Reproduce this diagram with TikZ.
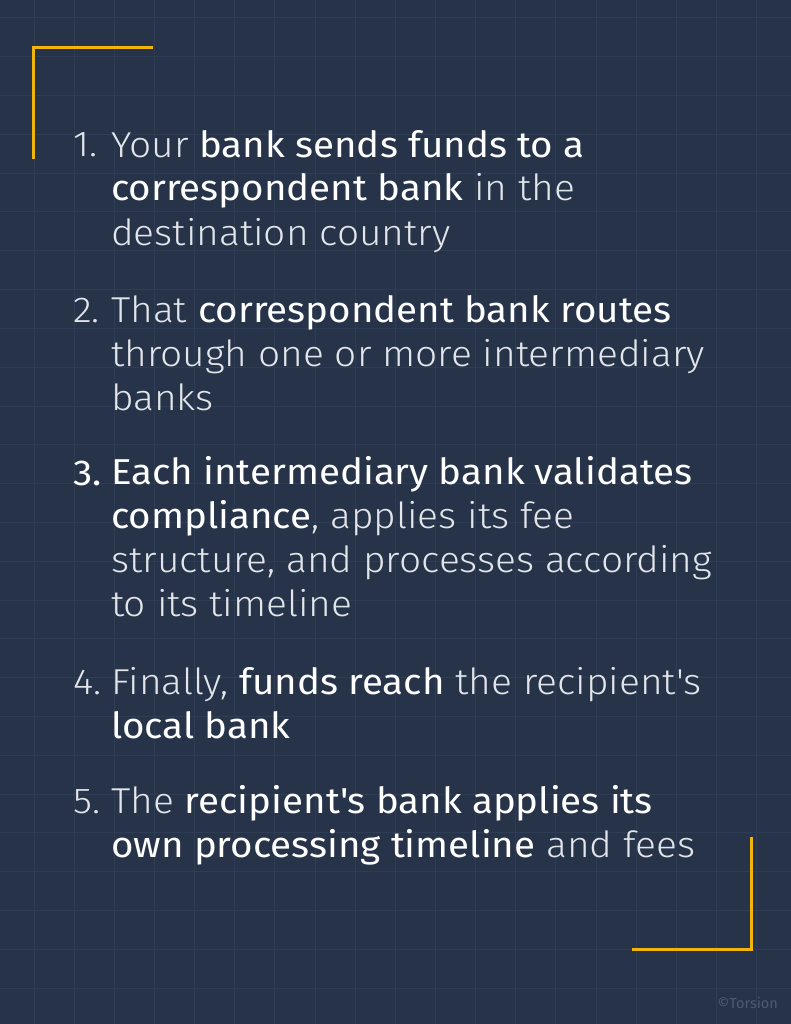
\documentclass[tikz,border=0pt]{standalone}
\usepackage{fontspec}
\usepackage{xcolor}
\IfFontExistsTF{Fira Sans Light}{\setmainfont{Fira Sans Light}[FakeStretch=1.08,BoldFont={Fira Sans},BoldFeatures={FakeStretch=1.07}]}{%
	\IfFontExistsTF{Open Sans Light}{\setmainfont{Open Sans Light}[BoldFont={Open Sans}]}{%
		\IfFontExistsTF{Lato Light}{\setmainfont{Lato Light}[BoldFont={Lato}]}{%
			\setmainfont{Open Sans}}}}
\newfontfamily\markfont{Fira Sans}
\usetikzlibrary{positioning}
\definecolor{BG-NAVY}{RGB}{38,51,73}
\definecolor{GRID-LINE}{RGB}{46,61,83}
\definecolor{ACCENT-GOLD}{RGB}{242,181,12}
\definecolor{TEXT-LIGHT}{RGB}{226,229,234}
\definecolor{MARK-GRAY}{RGB}{78,90,110}
\newcommand{\hilite}[1]{{\bfseries\color{white}#1}}

\begin{document}
\begin{tikzpicture}[x=1pt,y=-1pt,every node/.style={inner sep=0pt},
		stepnum/.style={anchor=base west,font=\fontsize{36}{44}\selectfont,text=TEXT-LIGHT},
		steptext/.style={anchor=base west,align=left,font=\fontsize{36}{44}\selectfont,text=TEXT-LIGHT}]
			\useasboundingbox (0,0) rectangle (791,1024);
			\fill[BG-NAVY] (0,0) rectangle (791,1024);

			% draw grid
			\foreach \i in {0,...,18}
				\draw[GRID-LINE,line width=1] (34+40.15*\i,0) -- (34+40.15*\i,1024);
			\foreach \j in {0,...,25}
				\draw[GRID-LINE,line width=1] (0,18+38.8*\j) -- (791,18+38.8*\j);

			% draw corners
			\draw[ACCENT-GOLD,line width=3] (33.5,159) -- (33.5,47.3) -- (152.5,47.3);
			\draw[ACCENT-GOLD,line width=3] (751.2,837) -- (751.2,949.7) -- (632,949.7);

			% draw steps (a step is placed at its last baseline)
			\node (num_1) at (73,157) [stepnum] {1.};
			\node (step_1) at (111,245) [steptext] {Your \hilite{bank sends funds to a}\\\hilite{correspondent bank} in the\\destination country};
			\node (num_2) at (73,322) [stepnum] {2.};
			\node (step_2) at (111,410) [steptext] {That \hilite{correspondent bank routes}\\through one or more intermediary\\banks};
			\node (num_3) at (73,485) [stepnum] {\hilite{3.}};
			\node (step_3) at (111,616) [steptext] {\hilite{Each intermediary bank validates}\\\hilite{compliance}, applies its fee\\structure, and processes according\\to its timeline};
			\node (num_4) at (73,694) [stepnum] {4.};
			\node (step_4) at (111,738) [steptext] {Finally, \hilite{funds reach} the recipient\textquotesingle s\\\hilite{local bank}};
			\node (num_5) at (73,813) [stepnum] {5.};
			\node (step_5) at (111,857) [steptext] {The \hilite{recipient\textquotesingle s bank applies its}\\\hilite{own processing timeline} and fees};

			% draw mark
			\node (mark) at (778,1003) [anchor=east,text=MARK-GRAY,font=\markfont\fontsize{14.5}{14.5}\selectfont] {©Torsion};
		\end{tikzpicture}
\end{document}
